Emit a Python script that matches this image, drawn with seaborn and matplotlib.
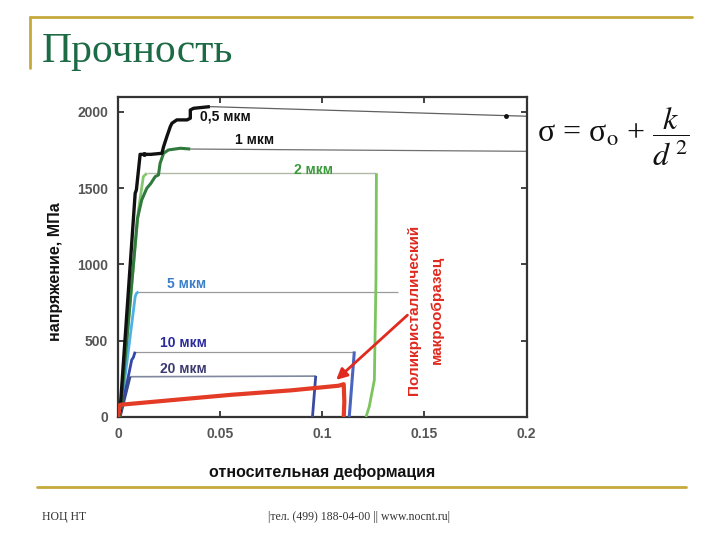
import matplotlib
matplotlib.use("Agg")
import matplotlib.pyplot as plt
import seaborn as sns
import pandas as pd
from matplotlib.lines import Line2D

sns.set_style("ticks")
plt.rcParams['font.family'] = ['Liberation Sans', 'DejaVu Sans']
plt.rcParams['mathtext.fontset'] = 'stix'

# ---------------- data (strain, stress MPa) ----------------
grain_labels = ["0,5 мкм", "1 мкм", "2 мкм", "5 мкм", "10 мкм", "20 мкм"]

strain_05 = [0, 0.0010, 0.0075, 0.0084, 0.0090, 0.0108, 0.0108, 0.0160, 0.0215, 0.0223,
             0.0239, 0.0256, 0.0264, 0.0288, 0.0338, 0.0354, 0.0354, 0.0370, 0.0450]
stress_05 = [0, 40, 1292, 1467, 1489, 1718, 1722, 1722, 1729, 1772,
             1838, 1904, 1926, 1948, 1948, 1959, 2013, 2024, 2035]
plateau_05_x = [0.0450, 0.2000]
plateau_05_y = [2035, 1972]

strain_1 = [0.0010, 0.0095, 0.0116, 0.0141, 0.0160, 0.0182, 0.0198, 0.0206, 0.0223,
            0.0247, 0.0305, 0.0354]
stress_1 = [0, 1300, 1423, 1500, 1530, 1576, 1587, 1663, 1729, 1751, 1762, 1757]
plateau_1_x = [0.0354, 0.2000]
plateau_1_y = [1757, 1742]

strain_2 = [0.0010, 0.0100, 0.0124, 0.0141]
stress_2 = [0, 1357, 1576, 1598]
plateau_2_x = [0.0141, 0.1265]
plateau_2_y = [1598, 1598]
unload_2_x = [0.1265, 0.1263, 0.1255, 0.1230, 0.1214]
unload_2_y = [1598, 900, 243, 68, 0]

strain_5 = [0.0010, 0.0084, 0.0090, 0.0100]
stress_5 = [0, 789, 810, 822]
plateau_5_x = [0.0100, 0.1370]
plateau_5_y = [822, 822]

strain_10 = [0.0010, 0.0067, 0.0075, 0.0084]
stress_10 = [0, 374, 390, 428]
plateau_10_x = [0.0084, 0.1157]
plateau_10_y = [428, 428]
unload_10_x = [0.1157, 0.1132]
unload_10_y = [430, 0]

strain_20 = [0.0010, 0.0059]
stress_20 = [0, 264]
plateau_20_x = [0.0059, 0.0968]
plateau_20_y = [264, 268]
unload_20_x = [0.0968, 0.0952]
unload_20_y = [270, 0]

strain_poly = [0.0000, 0.0006, 0.0002, 0.0010, 0.0300, 0.0550, 0.0850, 0.1080, 0.1105, 0.1108, 0.1105]
stress_poly = [0, 60, 30, 80, 115, 145, 175, 205, 215, 100, 0]

x_ticks = [0, 0.05, 0.1, 0.15, 0.2]
x_ticklabels = ["0", "0.05", "0.1", "0.15", "0.2"]
y_ticks = [0, 500, 1000, 1500, 2000]

# ---------------- figure ----------------
fig = plt.figure(figsize=(7.2, 5.4), dpi=100)
fig.patch.set_facecolor("white")
ax = fig.add_axes([0.1639, 0.2278, 0.5674, 0.5931])


def draw(xs, ys, color, lw, z=2):
    df = pd.DataFrame({"x": xs, "y": ys})
    sns.lineplot(data=df, x="x", y="y", sort=False, estimator=None,
                 color=color, lw=lw, ax=ax, zorder=z, solid_capstyle="butt")


thin_gray = "#9a9a9a"
# thin plateau lines
draw(plateau_05_x, plateau_05_y, "#606060", 0.9, 1)
draw(plateau_1_x, plateau_1_y, "#707070", 0.9, 1)
draw(plateau_2_x, plateau_2_y, "#b0b8a8", 1.0, 1)
draw(plateau_5_x, plateau_5_y, thin_gray, 0.9, 1)
draw(plateau_10_x, plateau_10_y, thin_gray, 0.9, 1)
draw(plateau_20_x, plateau_20_y, "#8088a0", 1.2, 1)

# loading curves
draw(strain_2, stress_2, "#86c66e", 2.0, 3)
draw(strain_5, stress_5, "#4fb0e6", 2.0, 3)
draw(strain_10, stress_10, "#3446a6", 2.0, 3)
draw(strain_20, stress_20, "#3a4a90", 2.0, 3)
draw(strain_1, stress_1, "#2f7a3c", 2.2, 4)
draw(strain_05, stress_05, "#111111", 2.4, 5)

# unloading lines
draw(unload_2_x, unload_2_y, "#7cc45e", 2.0, 3)
draw(unload_10_x, unload_10_y, "#4a64c0", 2.2, 3)
draw(unload_20_x, unload_20_y, "#3a4aa0", 2.0, 3)

# polycrystal
draw(strain_poly, stress_poly, "#e33b26", 3.0, 6)

# dots on the 0.5 line
ax.plot([0.0125, 0.19], [1722, 1975], "o", color="#111111", ms=2.5, zorder=6)

# labels of curves
lab_pos = [(0.040, 1967), (0.0575, 1816), (0.086, 1620), (0.024, 872), (0.0206, 485), (0.0206, 315)]
lab_col = ["#111111", "#111111", "#3a9a3a", "#3a7fc8", "#2a2a9a", "#3a3a70"]
for t, (lx, ly), c in zip(grain_labels, lab_pos, lab_col):
    ax.text(lx, ly, t, color=c, fontsize=10, fontweight="bold", va="center", ha="left")

# arrow and polycrystal label
ax.annotate("", xy=(0.1058, 231), xytext=(0.1427, 680),
            arrowprops=dict(arrowstyle="-|>", color="#e02a20", lw=2.0, mutation_scale=16))
ax.text(0.1505, 700, "Поликристаллический\nмакрообразец", rotation=90,
        color="#e02a20", fontsize=11, fontweight="bold", ha="center", va="center",
        multialignment="center", linespacing=1.75)

ax.set_xlim(0, 0.2)
ax.set_ylim(0, 2100)
ax.set_xticks(x_ticks)
ax.set_xticklabels(x_ticklabels)
ax.set_yticks(y_ticks)
ax.tick_params(direction="in", length=4, width=1.3, top=True, right=True,
               labelsize=10, labelcolor="#555555", color="#333333", pad=7)
for lab in ax.get_xticklabels() + ax.get_yticklabels():
    lab.set_fontweight("bold")
for sp in ax.spines.values():
    sp.set_visible(True)
    sp.set_linewidth(1.6)
    sp.set_color("#333333")
ax.set_xlabel("относительная деформация", fontsize=11.5, fontweight="bold", color="#111111")
ax.set_ylabel("напряжение, МПа", fontsize=11.5, fontweight="bold", color="#111111")
# label positions (axes coordinates)
ax.xaxis.set_label_coords(0.5, -0.147)
ax.yaxis.set_label_coords(-0.135, 0.455)

# ---------------- slide decoration ----------------
gold = "#c6aa3c"
fig.add_artist(Line2D([30 / 720, 692 / 720], [1 - 17 / 540, 1 - 17 / 540], color=gold, lw=2.0))
fig.add_artist(Line2D([30 / 720, 30 / 720], [1 - 17 / 540, 1 - 68 / 540], color=gold, lw=2.0))
fig.add_artist(Line2D([37 / 720, 686 / 720], [1 - 487 / 540, 1 - 487 / 540], color=gold, lw=2.0))

fig.text(42 / 720, 1 - 52 / 540, "Прочность", fontsize=30, color="#1d6b45",
         family=["Liberation Serif", "DejaVu Serif"], va="center", ha="left")

fig.text(613 / 720, 1 - 137 / 540, r"σ = σ$_{\mathrm{o}}$ + $\dfrac{k}{d^{\,2}}$",
         fontsize=23, ha="center", va="center", color="#111111",
         family=["Liberation Serif", "DejaVu Serif"])

fig.text(42 / 720, 1 - 517 / 540, "НОЦ НТ", fontsize=8.5, color="#333333",
         family=["Liberation Serif", "DejaVu Serif"], va="center", ha="left")
fig.text(268 / 720, 1 - 517 / 540, "|тел. (499) 188-04-00 || www.nocnt.ru|", fontsize=8.5,
         color="#333333", family=["Liberation Serif", "DejaVu Serif"], va="center", ha="left")

fig.savefig("out.png", dpi=100)
